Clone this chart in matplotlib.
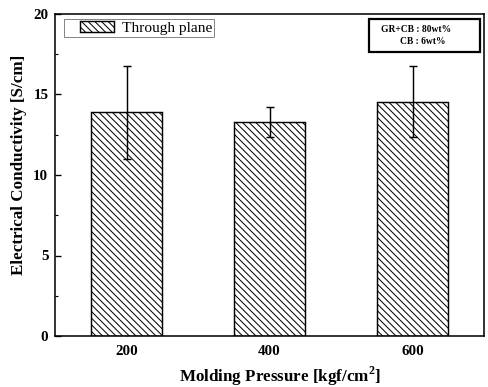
import matplotlib
matplotlib.use("Agg")
import matplotlib.pyplot as plt
from matplotlib.patches import Rectangle
from matplotlib.container import BarContainer
from matplotlib.legend_handler import HandlerPatch, update_from_first_child
from matplotlib.ticker import MultipleLocator

# Data
pressures = [200, 400, 600]
conductivity = [13.9, 13.3, 14.55]
conductivity_err = [2.9, 0.93, 2.2]
series_label = "Through plane"
composition_lines = ["GR+CB : 80wt%", "CB : 6wt%"]

DPI = 80
plt.rcParams["font.family"] = ["Liberation Serif", "DejaVu Serif"]
plt.rcParams["hatch.linewidth"] = 0.9
plt.rcParams["mathtext.fontset"] = "custom"
plt.rcParams["mathtext.rm"] = "Liberation Serif:bold"
plt.rcParams["mathtext.bf"] = "Liberation Serif:bold"

fig = plt.figure(figsize=(488 / DPI, 387 / DPI), dpi=DPI)
ax = fig.add_axes([55 / 488, 1 - 336 / 387, (484 - 55) / 488, (336 - 14) / 387])

bars = ax.bar(pressures, conductivity, width=100, facecolor="white",
              edgecolor="black", linewidth=1.3, hatch="\\\\\\\\",
              label=series_label, zorder=2)
ax.errorbar(pressures, conductivity, yerr=conductivity_err, fmt="none",
            ecolor="black", elinewidth=1.3, capsize=3.5, capthick=1.3, zorder=3)

ax.set_xlim(100, 700)
ax.set_ylim(0, 20)
ax.set_xticks(pressures)
ax.yaxis.set_major_locator(MultipleLocator(5))
ax.yaxis.set_minor_locator(MultipleLocator(2.5))
ax.tick_params(axis="y", which="major", direction="in", length=5, width=1.2,
               labelsize=13.5, pad=6, right=False)
ax.tick_params(axis="y", which="minor", direction="in", length=3, width=1.0,
               right=False)
ax.tick_params(axis="x", which="major", direction="in", length=3, width=1.0,
               labelsize=13.5, pad=8, top=False)
for lab in ax.get_xticklabels() + ax.get_yticklabels():
    lab.set_fontweight("bold")
for sp in ax.spines.values():
    sp.set_linewidth(1.4)

ax.set_ylabel("Electrical Conductivity [S/cm]", fontsize=15.3, fontweight="bold")
ax.set_xlabel(r"Molding Pressure [kgf/cm$^{2}$]", fontsize=15.3, fontweight="bold")
ax.yaxis.set_label_coords(-0.065, 0.532)
ax.xaxis.set_label_coords(0.525, -0.09)


def offset_patch(legend, orig_handle, xdescent, ydescent, width, height, fontsize):
    # hatched swatch sits in the right part of the handle area
    return Rectangle((-xdescent + 0.284 * width, -ydescent), 0.716 * width, height)


swatch_handler = HandlerPatch(patch_func=offset_patch, update_func=update_from_first_child)
leg = ax.legend(loc="upper left", bbox_to_anchor=((64 - 55) / 429, 1 - (19 - 14) / 322),
                frameon=True, fancybox=False, edgecolor="#555555", fontsize=13.8,
                handlelength=3.1, handleheight=0.72, handletextpad=0.52,
                borderpad=0.15, borderaxespad=0.0,
                handler_map={BarContainer: swatch_handler})
leg.get_frame().set_linewidth(0.8)

# Composition annotation box
ax.add_patch(Rectangle(((369 - 55) / 429, 1 - (52 - 14) / 322), (480 - 369) / 429,
                       (52 - 19) / 322, transform=ax.transAxes, facecolor="white",
                       edgecolor="black", linewidth=2.0, zorder=4))
ax.text((381 - 55) / 429, 1 - (29 - 14) / 322, composition_lines[0],
        transform=ax.transAxes, ha="left", va="center", fontsize=8.6,
        fontweight="bold", zorder=5)
ax.text((400 - 55) / 429, 1 - (41 - 14) / 322, composition_lines[1],
        transform=ax.transAxes, ha="left", va="center", fontsize=8.6,
        fontweight="bold", zorder=5)

fig.savefig("out.png", dpi=DPI)
